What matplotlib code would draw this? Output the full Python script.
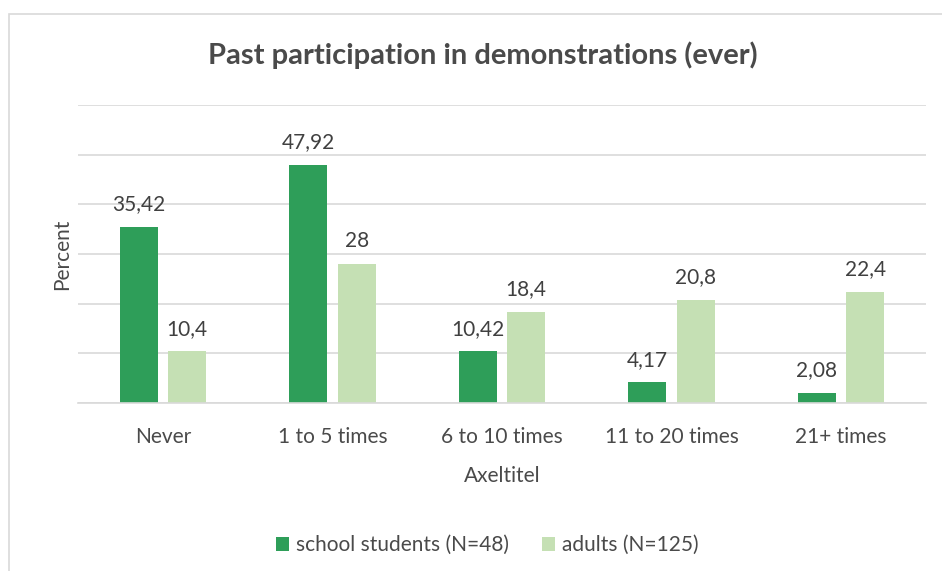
import numpy as np
import matplotlib
matplotlib.use("Agg")
import matplotlib.pyplot as plt
from matplotlib.patches import Rectangle

# data
categories = ["Never", "1 to 5 times", "6 to 10 times", "11 to 20 times", "21+ times"]
students = [35.42, 47.92, 10.42, 4.17, 2.08]
adults = [10.4, 28, 18.4, 20.8, 22.4]
studentLabels = ["35,42", "47,92", "10,42", "4,17", "2,08"]
adultLabels = ["10,4", "28", "18,4", "20,8", "22,4"]

plt.rcParams['font.family'] = ['Lato', 'DejaVu Sans']
textColor = '#4A4A4A'
darkGreen = '#2E9E59'
lightGreen = '#C5E0B4'
fs = 15

fig = plt.figure(figsize=(9.42, 5.71), dpi=100)
# light frame around the chart area
fig.patches.append(Rectangle((9/942, -0.1), 1.1, 1 - 14/571 + 0.1, transform=fig.transFigure,
                             fill=False, edgecolor='#D9D9D9', linewidth=1.2))

ax = fig.add_axes([78/942, 1 - 403/571, (926 - 78)/942, (403 - 105)/571])
x = np.arange(len(categories))
barWidth = 0.224
offset = 0.143
b1 = ax.bar(x - offset, students, barWidth, color=darkGreen, label='school students (N=48)')
b2 = ax.bar(x + offset, adults, barWidth, color=lightGreen, label='adults (N=125)')

for bar, lab in zip(b1, studentLabels):
    ax.annotate(lab, (bar.get_x() + bar.get_width()/2, bar.get_height()), xytext=(0, 9),
                textcoords='offset points', ha='center', va='bottom', fontsize=fs, color='#404040')
for bar, lab in zip(b2, adultLabels):
    ax.annotate(lab, (bar.get_x() + bar.get_width()/2, bar.get_height()), xytext=(0, 9),
                textcoords='offset points', ha='center', va='bottom', fontsize=fs, color='#404040')

ax.set_xlim(-0.5, len(categories) - 0.5)
ax.set_ylim(0, 60)
ax.set_yticks(np.arange(0, 61, 10))
ax.set_yticklabels([])
ax.yaxis.grid(True, color='#D9D9D9', linewidth=1.2)
ax.set_axisbelow(True)
ax.tick_params(axis='both', length=0)
ax.set_xticks(x, categories, fontsize=fs, color=textColor)
ax.tick_params(axis='x', pad=17)
for s in ['top', 'right', 'left']:
    ax.spines[s].set_visible(False)
ax.spines['bottom'].set_color('#D9D9D9')
ax.spines['bottom'].set_linewidth(1.2)

ax.set_ylabel('Percent', fontsize=fs, color=textColor, labelpad=1)
ax.set_xlabel('Axeltitel', fontsize=fs, color=textColor, labelpad=14)
fig.text(483/942, 1 - 55/571, 'Past participation in demonstrations (ever)', ha='center', va='center',
         fontsize=21, fontweight='bold', color=textColor)

fig.legend(loc='center', bbox_to_anchor=(487/942, 1 - 545/571), ncol=2, frameon=False,
           fontsize=fs, handlelength=0.65, handleheight=0.65, handletextpad=0.3, columnspacing=1.6,
           labelcolor=textColor)

fig.savefig('out.png', dpi=100)
